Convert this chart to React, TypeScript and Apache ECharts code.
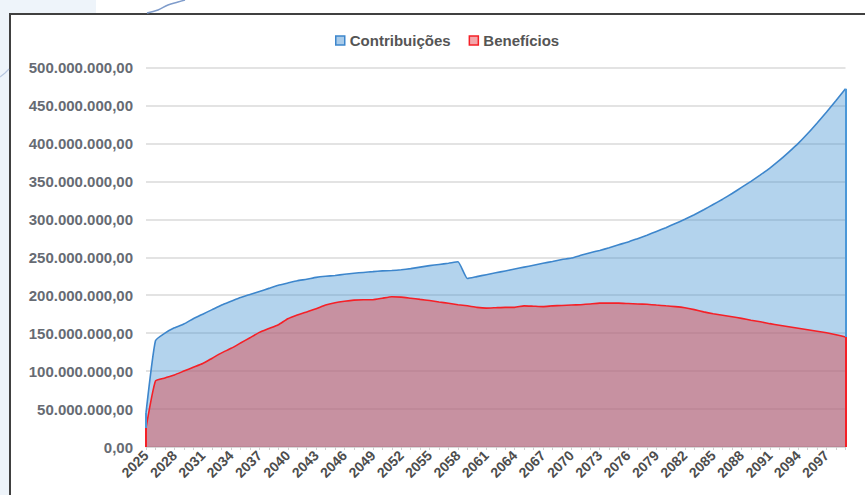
import React, { useEffect, useRef } from "react";
import * as echarts from "echarts";

// Years 2025..2099
const years: string[] = [];
for (let y = 2025; y <= 2099; y++) years.push(String(y));

// Values in millions of reais
const contribuicoesM = [
  45, 140, 150, 157, 162, 169, 175, 181, 187, 192,
  197, 201, 205, 209, 213, 216, 219, 221, 223.5, 225,
  226, 227.5, 229, 230, 231, 232, 232.5, 233.5, 235, 237,
  239, 240.5, 242, 244, 222, 224.5, 227, 229.5, 232, 234.5,
  237, 239.5, 242, 244.5, 247, 249, 252.5, 256, 259, 262.5,
  266.5, 270, 274.5, 279, 284, 289, 294.5, 300, 306, 312.5,
  319.5, 326.5, 334, 342, 350, 358.5, 367.5, 377.5, 388.5, 400,
  413, 427, 441.5, 456.5, 472,
];

const beneficiosM = [
  25, 87, 91, 95, 100, 105, 110, 117, 124, 130,
  137, 144, 151, 156, 161, 169, 174, 178, 182, 187,
  190, 192, 193.5, 194, 194, 196, 198, 197.5, 196, 194.5,
  193, 191, 189.5, 187.5, 186, 184, 183, 183.5, 184, 184,
  186, 185.5, 185, 186, 186.5, 187, 187.5, 188.5, 189.5, 189.5,
  189.5, 189, 188.5, 188, 187, 186, 185, 183.5, 181, 178,
  175.5, 173.5, 171.5, 169.5, 167, 165, 162.5, 160.5, 158.5, 156.5,
  154.5, 152.5, 150.5, 148, 145,
];

const seriesNames = ["Contribuições", "Benefícios"];
const yMax = 500000000;
const yStep = 50000000;

const BLUE_LINE = "#3d86cc";
const RED_LINE = "#f52027";

function fmtBR(v: number): string {
  const s = Math.round(v).toString().replace(/\B(?=(\d{3})+(?!\d))/g, ".");
  return s + ",00";
}

function edgeLines(vals: number[]) {
  const last = years.length - 1;
  return [
    [{ coord: [years[0], 0] }, { coord: [years[0], vals[0]] }],
    [{ coord: [years[last], 0] }, { coord: [years[last], vals[last]] }],
  ];
}

export default function App() {
  const ref = useRef<HTMLDivElement>(null);
  useEffect(() => {
    if (!ref.current) return;
    const chart = echarts.init(ref.current, null, { renderer: "svg" });
    const blue = contribuicoesM.map((v) => v * 1e6);
    const red = beneficiosM.map((v) => v * 1e6);
    const font = "'Liberation Sans', Arial, sans-serif";
    chart.setOption({
      animation: false,
      backgroundColor: "#ffffff",
      graphic: [
        { type: "rect", z: -10, shape: { x: 0, y: 0, width: 96, height: 495 }, style: { fill: "#eef4fa" }, silent: true },
        { type: "rect", z: -9, shape: { x: 10, y: 14, width: 900, height: 600 }, style: { fill: "#ffffff", stroke: "#404040", lineWidth: 2 }, silent: true },
        { type: "polyline", z: -8, shape: { points: [[147, 13], [158, 10], [168, 5], [178, 2], [185, 0]], smooth: 0.4 }, style: { stroke: "#7f9ccb", lineWidth: 1.5, fill: "none" }, silent: true },
        { type: "polyline", z: -8, shape: { points: [[0, 77], [5, 73], [9, 69]] }, style: { stroke: "#b7c6df", lineWidth: 1.2, fill: "none" }, silent: true },
      ],
      legend: {
        left: 330,
        top: 28,
        itemWidth: 9,
        itemHeight: 9,
        itemGap: 18,
        textStyle: { fontFamily: font, fontWeight: "bold", fontSize: 15, color: "#555555" },
        data: [
          { name: seriesNames[0], icon: "rect", itemStyle: { color: "#a9cbe9", borderColor: BLUE_LINE, borderWidth: 1.5 } },
          { name: seriesNames[1], icon: "rect", itemStyle: { color: "#f3a6aa", borderColor: RED_LINE, borderWidth: 1.5 } },
        ],
      },
      grid: { left: 146, right: 19.5, top: 67.5, bottom: 48, containLabel: false },
      xAxis: {
        type: "category",
        boundaryGap: false,
        data: years,
        axisLine: { show: true, lineStyle: { color: "#d6d6d6", width: 1.5 } },
        axisTick: { show: true, interval: 0, length: 3, lineStyle: { color: "#cfcfcf" } },
        axisLabel: {
          interval: 2,
          rotate: 45,
          margin: 6,
          fontFamily: font,
          fontWeight: "bold",
          fontSize: 14,
          color: "#4d4d4d",
        },
        splitLine: { show: false },
      },
      yAxis: {
        type: "value",
        min: 0,
        max: yMax,
        interval: yStep,
        axisLine: { show: false },
        axisTick: { show: false },
        axisLabel: {
          margin: 13,
          fontFamily: font,
          fontWeight: "bold",
          fontSize: 15,
          color: "#666b73",
          formatter: (v: number) => fmtBR(v),
        },
        splitLine: { show: true, lineStyle: { color: "#e3e3e3", width: 2 } },
      },
      series: [
        {
          name: seriesNames[0],
          type: "line",
          data: blue,
          symbol: "none",
          smooth: 0.15,
          lineStyle: { color: BLUE_LINE, width: 1.6 },
          itemStyle: { color: BLUE_LINE },
          areaStyle: { color: "rgba(65,145,210,0.4)", opacity: 1 },
          markLine: {
            silent: true,
            symbol: ["none", "none"],
            label: { show: false },
            lineStyle: { color: "#4a97d8", width: 2, type: "solid" },
            data: edgeLines(blue),
          },
        },
        {
          name: seriesNames[1],
          type: "line",
          data: red,
          symbol: "none",
          smooth: 0.15,
          lineStyle: { color: RED_LINE, width: 1.6 },
          itemStyle: { color: RED_LINE },
          areaStyle: { color: "rgba(219,79,85,0.5)", opacity: 1 },
          markLine: {
            silent: true,
            symbol: ["none", "none"],
            label: { show: false },
            lineStyle: { color: RED_LINE, width: 2, type: "solid" },
            data: edgeLines(red),
          },
        },
      ],
    });
    return () => chart.dispose();
  }, []);
  return (
    <div
      ref={ref}
      style={{ position: "absolute", left: 0, top: 0, width: 865, height: 495 }}
    />
  );
}
